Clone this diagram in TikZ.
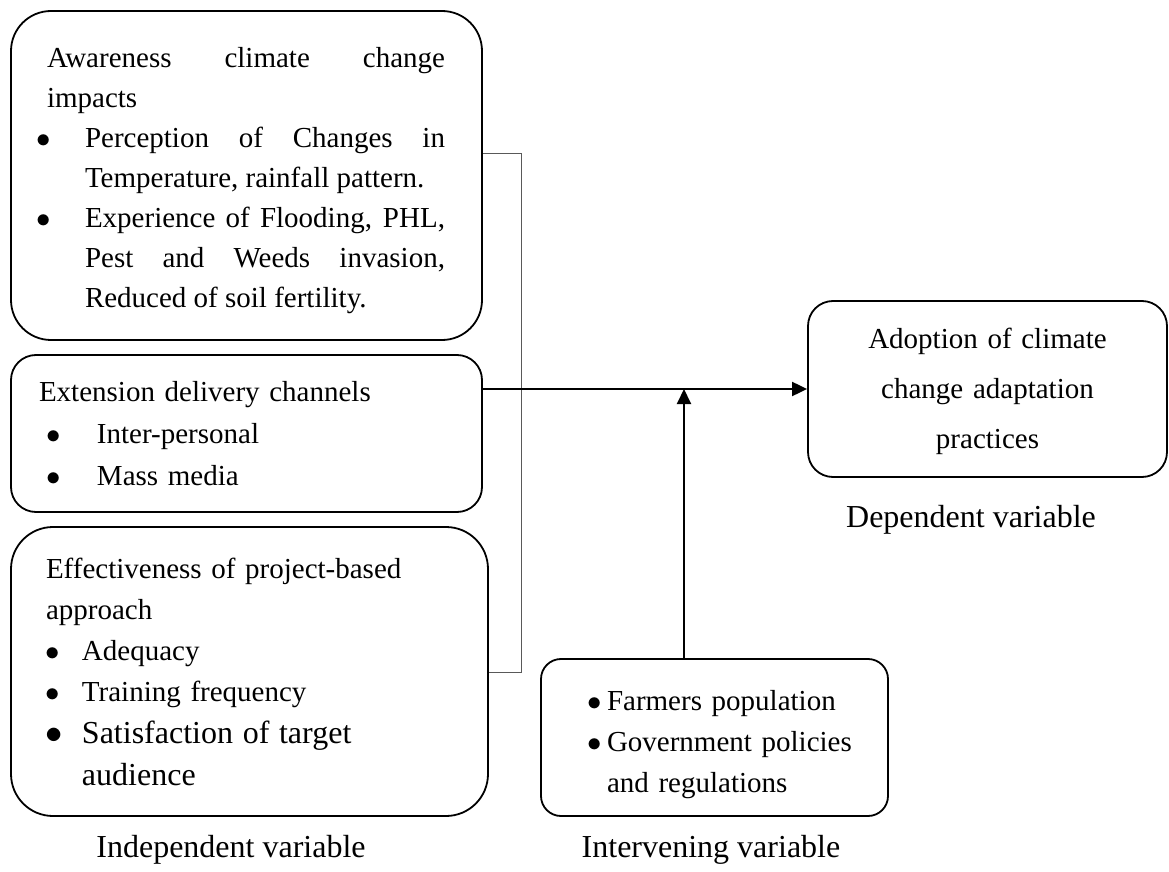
\documentclass[tikz,border=0pt]{standalone}
\usepackage{fontspec}
\setmainfont{Liberation Serif}
\usetikzlibrary{arrows.meta,positioning,calc}
\newcommand{\bulitem}[1]{\par\noindent\hangindent=#1\hangafter=1\makebox[#1][l]{$\bullet$}\ignorespaces}
\tikzset{
  varbox/.style={draw=black,line width=0.9pt,inner xsep=0pt,inner ysep=0pt,
    font=\fontsize{14.5}{20}\selectfont},
  flowarrow/.style={-{Triangle[length=7.5pt,width=7pt]},
    line width=1pt,draw=black},
  bracketline/.style={draw=black!65,line width=0.5pt},
  varlabel/.style={font=\fontsize{16}{19}\selectfont,inner sep=0pt,anchor=base},
}

\begin{document}
\begin{tikzpicture}[x=0.5pt,y=-0.5pt]
\useasboundingbox (0,0) rectangle (1169,872);
% independent variables
\node[varbox,rounded corners=20pt,minimum width=235.5pt,minimum height=164.5pt,text width=235.5pt,align=justify] (aware) at (246.5,175.5)
  {\rightskip=18.5pt\leftskip=18pt\noindent\rule{0pt}{15pt}Awareness climate change\linebreak impacts\par
   \leftskip=12.75pt
   \bulitem{24.25pt}Perception of Changes in\linebreak Temperature, rainfall pattern.
   \bulitem{24.25pt}Experience of Flooding, PHL,\linebreak Pest and Weeds invasion,\linebreak Reduced of soil fertility.\par};
\node[varbox,rounded corners=12.5pt,minimum width=235.5pt,minimum height=78.5pt,text width=235.5pt,align=left,font=\fontsize{14.5}{21}\selectfont] (channel) at (246.5,433.5)
  {\leftskip=14pt\noindent Extension delivery channels\par
   \leftskip=17.75pt
   \bulitem{25.25pt}Inter-personal
   \bulitem{25.25pt}Mass media\par};
\node[varbox,rounded corners=21pt,minimum width=238.5pt,minimum height=144.5pt,text width=238.5pt,align=left,font=\fontsize{14.5}{20.5}\selectfont] (effect) at (249.5,671.5)
  {\leftskip=17.5pt\noindent Effectiveness of project-based\linebreak approach\par
   \leftskip=17.25pt
   \bulitem{18.25pt}Adequacy
   \bulitem{18.25pt}Training frequency\par
   {\fontsize{16}{21}\selectfont\bulitem{18.25pt}Satisfaction of target\linebreak audience\par}};
% dependent and intervening
\node[varbox,rounded corners=12.5pt,minimum width=179.5pt,minimum height=88pt,text width=179.5pt,align=center,font=\fontsize{14.5}{25}\selectfont] (adopt) at (987.5,389)
  {\rule{0pt}{13pt}Adoption of climate\\ change adaptation\\ practices};
\node[varbox,rounded corners=10pt,minimum width=173.5pt,minimum height=78.5pt,text width=173.5pt,align=left,font=\fontsize{14.5}{20.5}\selectfont] (interv) at (714.5,737.5)
  {\leftskip=23.25pt
   \bulitem{9.75pt}Farmers population
   \bulitem{9.75pt}Government policies\linebreak and regulations\rule[-7pt]{0pt}{0pt}\par};
% labels
\node[varlabel] (indlab) at (231,857) {Independent variable};
\node[varlabel] (intlab) at (711,857) {Intervening variable};
\node[varlabel] (deplab) at (971,527) {Dependent variable};
% connectors
\coordinate (brtop) at (521,154);
\coordinate (brbot) at (521,672);
\coordinate (join) at (684,392);
\draw[bracketline] (aware.east |- brtop) -- (brtop) -- (brbot) -- (effect.east |- brbot);
\draw[flowarrow] (channel.east |- adopt.west) -- (adopt.west);
\draw[flowarrow] (join |- interv.north) -- (join |- adopt.west);
\end{tikzpicture}
\end{document}
